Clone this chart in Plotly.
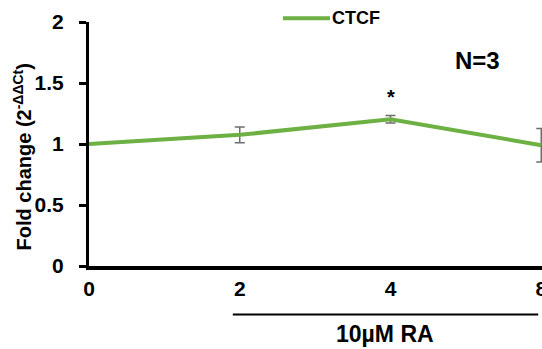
import plotly.graph_objects as go

# Time points (days) and CTCF fold change with SEM
days = ["0", "2", "4", "8"]
fold_change = [1.0, 1.075, 1.203, 0.99]
sem = [0.0, 0.064, 0.03, 0.137]
y_ticks = [0, 0.5, 1, 1.5, 2]
y_tick_labels = ["0", "0.5", "1", "1.5", "2"]
series_name = "CTCF"
significant_day = "4"

GREEN = "#6db043"
FONT = "Liberation Sans, Arial, sans-serif"

fig = go.Figure()
fig.add_trace(go.Scatter(
    x=days, y=fold_change, mode="lines", name=series_name,
    line=dict(color=GREEN, width=4),
    error_y=dict(type="data", array=sem, visible=True,
                 color="#6e6e6e", thickness=1.5, width=5),
    showlegend=False,
))

fig.update_layout(
    width=542, height=349,
    margin=dict(l=89, r=0, t=22, b=83),
    paper_bgcolor="white", plot_bgcolor="white",
    font=dict(family=FONT, color="black"),
    showlegend=False,
    xaxis=dict(
        type="category", range=[0, 3.005], automargin=False,
        showline=True, linecolor="black", linewidth=3.5,
        showgrid=False, zeroline=False, ticks="",
        ticklabelstandoff=1,
        tickfont=dict(size=21, weight="bold", color="black"),
    ),
    yaxis=dict(
        range=[0, 2], tickvals=y_ticks, ticktext=y_tick_labels,
        automargin=False,
        showline=True, linecolor="black", linewidth=3,
        showgrid=False, zeroline=False,
        ticks="outside", ticklen=7, tickwidth=2.5, tickcolor="black",
        ticklabelstandoff=11,
        tickfont=dict(size=21, weight="bold", color="black"),
    ),
)

# Legend entry: line sample and series name
fig.add_shape(type="line", xref="paper", yref="paper",
              x0=0.428, x1=0.532, y0=1.015, y1=1.015,
              line=dict(color=GREEN, width=4))
fig.add_annotation(
    text=series_name, xref="paper", yref="paper", x=0.532, y=1.015,
    xanchor="left", yanchor="middle", showarrow=False,
    font=dict(size=18, weight="bold"),
)

# Y axis title
fig.add_annotation(
    text="Fold change (2<sup>-ΔΔCt</sup>)", textangle=-90,
    xref="paper", yref="paper", x=0, y=0.445, xshift=-67,
    xanchor="center", yanchor="middle", showarrow=False,
    font=dict(size=20, weight="bold"),
)

# Significance marker above the day-4 point
sig_idx = days.index(significant_day)
fig.add_annotation(
    text="*", x=sig_idx, y=fold_change[sig_idx], xref="x", yref="y",
    yshift=22, showarrow=False, font=dict(size=20, weight="bold"),
)

# Sample size
fig.add_annotation(
    text="N=3", xref="paper", yref="paper", x=0.857, y=0.844,
    xanchor="center", yanchor="middle", showarrow=False,
    font=dict(size=24, weight="bold"),
)

# Treatment bracket under days 2-8
fig.add_shape(type="line", xref="x", yref="paper",
              x0=0.954, x1=2.98, y0=-0.199, y1=-0.199,
              line=dict(color="black", width=2))
fig.add_annotation(
    text="10µM RA", xref="x", yref="paper", x=1.964, y=-0.277,
    xanchor="center", yanchor="middle", showarrow=False,
    font=dict(size=23, weight="bold"),
)

fig.write_html("out.html")
